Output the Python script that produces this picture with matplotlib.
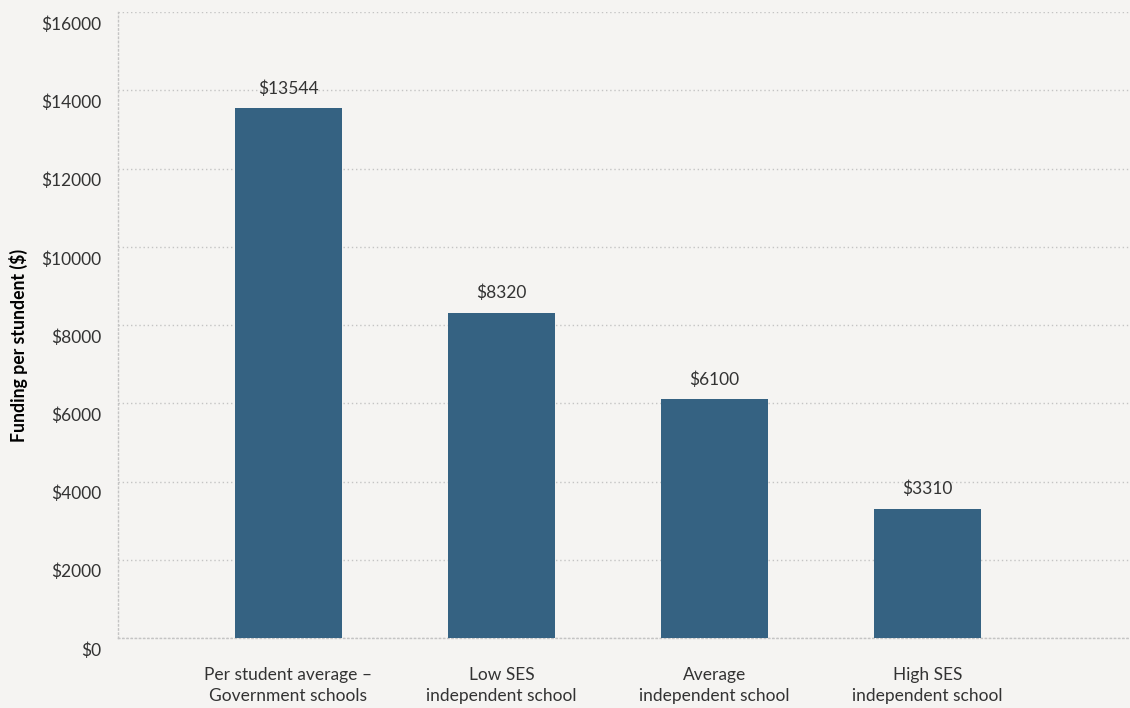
import matplotlib.pyplot as plt
import matplotlib.transforms as mtransforms

categories = ["Per student average \u2013\nGovernment schools",
              "Low SES\nindependent school",
              "Average\nindependent school",
              "High SES\nindependent school"]
funding = [13544, 8320, 6100, 3310]
yticks = [0, 2000, 4000, 6000, 8000, 10000, 12000, 14000, 16000]

plt.rcParams['font.family'] = ['Lato', 'DejaVu Sans']
bg = '#f5f4f2'
bar_color = '#356282'
text_color = '#333333'
grid_color = '#c4c4c4'

fig = plt.figure(figsize=(11.3, 7.08), dpi=100, facecolor=bg)
ax = fig.add_axes([0.1044, 0.0989, 0.8956, 0.884], facecolor=bg)

x = range(len(categories))
bars = ax.bar(x, funding, width=0.5, color=bar_color, zorder=3)
for b, v in zip(bars, funding):
    ax.annotate(f"${v}", (b.get_x() + b.get_width() / 2, v),
                xytext=(0, 8), textcoords='offset points',
                ha='center', va='bottom', fontsize=12.5, color=text_color)

ax.set_xlim(-0.8, 3.95)
ax.set_ylim(0, 16000)
ax.set_yticks(yticks)
ax.set_yticklabels([f"${t}" for t in yticks], fontsize=12.5, color=text_color)
ax.set_xticks(list(x))
ax.set_xticklabels(categories, fontsize=12.5, color=text_color, linespacing=1.4)
ax.tick_params(length=0)
ax.tick_params(axis='y', pad=12)
ax.tick_params(axis='x', pad=21)

# y labels sit slightly below their gridlines
shift = mtransforms.ScaledTranslation(0, -11 / 100, fig.dpi_scale_trans)
for lbl in ax.get_yticklabels():
    lbl.set_transform(lbl.get_transform() + shift)

ax.grid(axis='y', color=grid_color, linestyle=(0, (1, 2)), linewidth=1, zorder=0)
for s in ['top', 'right']:
    ax.spines[s].set_visible(False)
for s in ['left', 'bottom']:
    ax.spines[s].set_color(grid_color)
    ax.spines[s].set_linestyle((0, (1, 2)))
    ax.spines[s].set_linewidth(1)

ax.set_ylabel("Funding per stundent ($)", fontsize=12.7, fontweight='bold',
              color='black')
ax.yaxis.set_label_coords(-0.089, 0.468)

fig.savefig('out.png', dpi=100, facecolor=bg)
